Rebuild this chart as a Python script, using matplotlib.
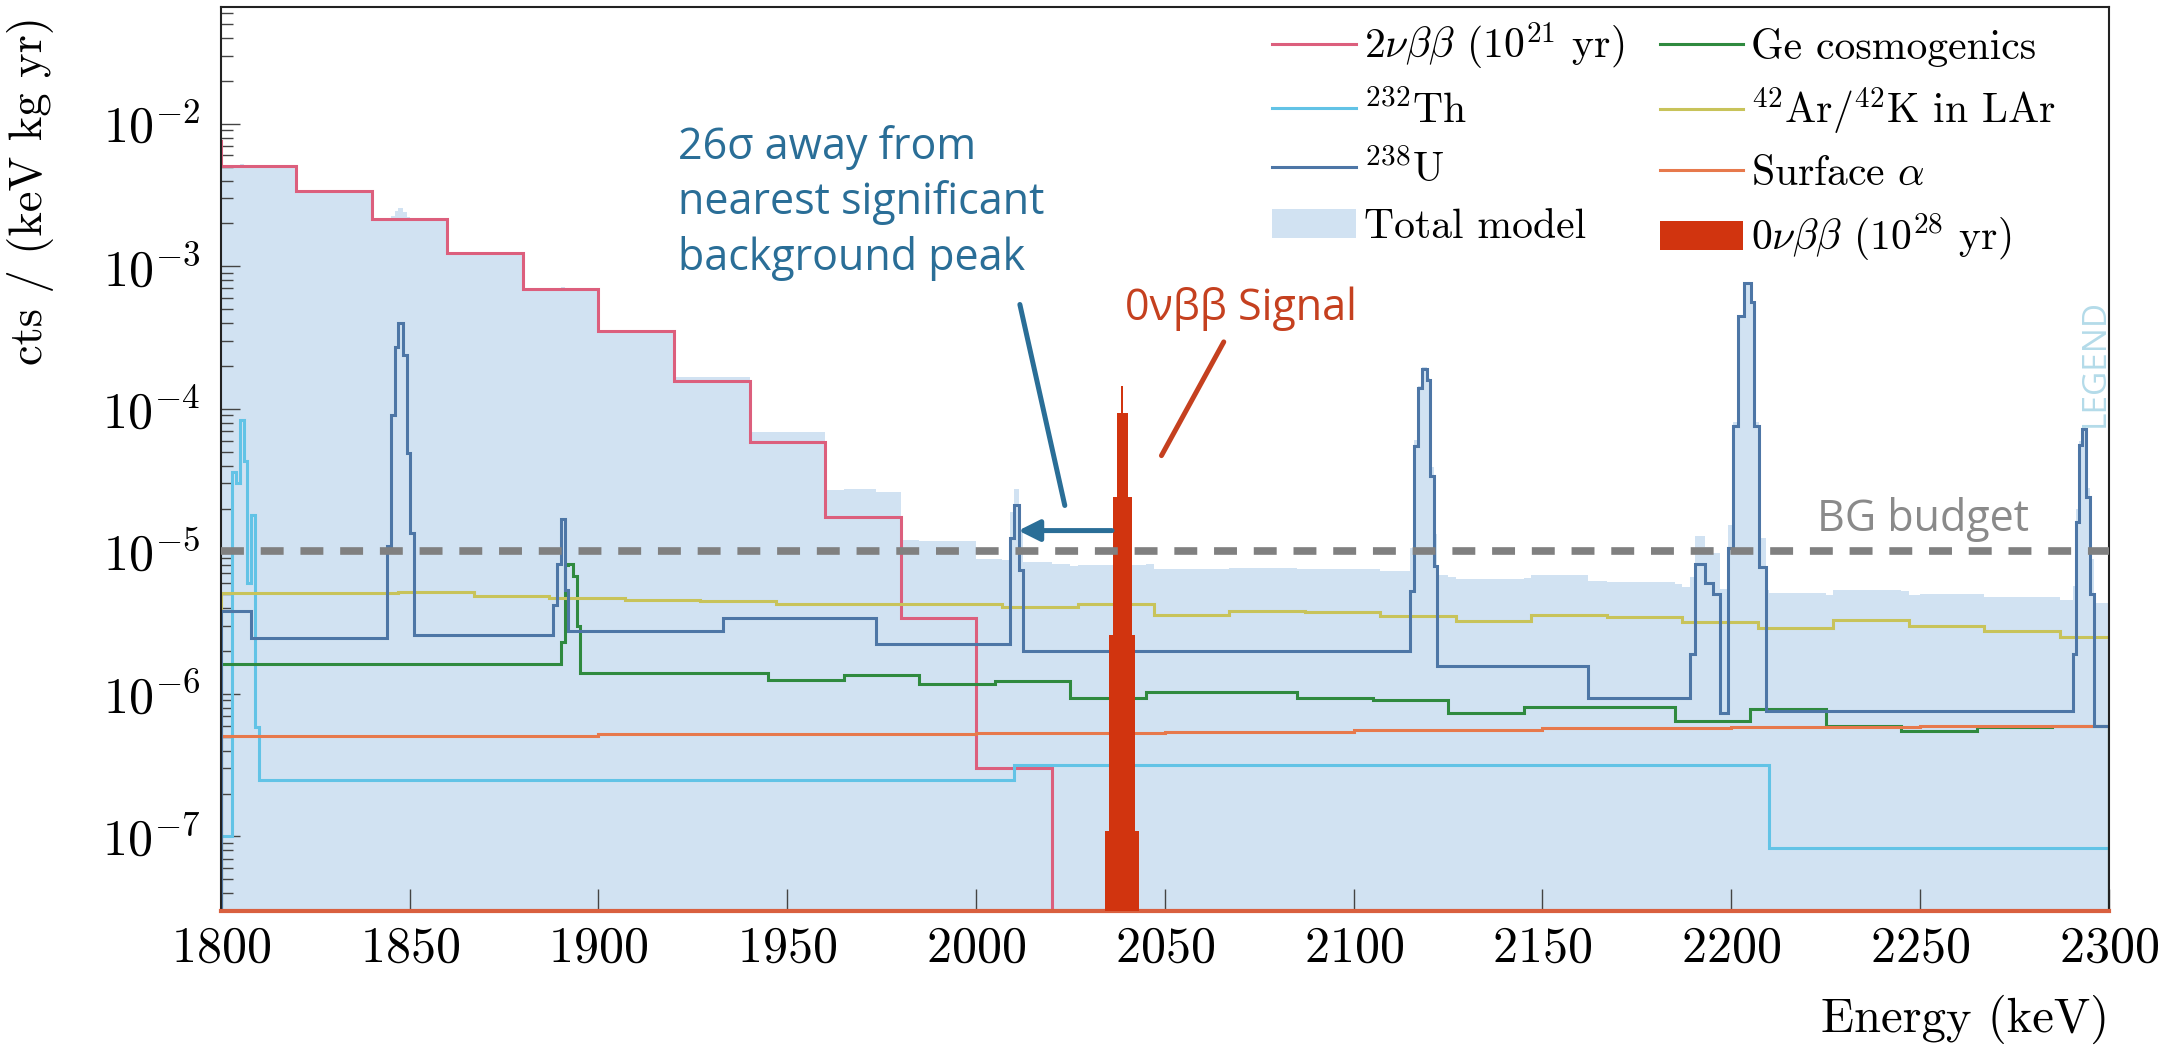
import numpy as np
import matplotlib
matplotlib.use('Agg')
import matplotlib.pyplot as plt
from matplotlib.ticker import FixedLocator, FuncFormatter, LogLocator, MultipleLocator, NullLocator

# bin edges in keV, rates in cts / (keV kg yr)
nu2_edges = [1780, 1800, 1820, 1840, 1860, 1880, 1900, 1920, 1940, 1960, 1980, 2000, 2020, 2300]
nu2_vals = [7.6e-3, 5.1e-3, 3.4e-3, 2.15e-3, 1.24e-3, 6.9e-4, 3.5e-4, 1.58e-4, 5.9e-5, 1.74e-5,
            3.4e-6, 3.0e-7, 0]

th_edges = [1800, 1803, 1804, 1805, 1806, 1807, 1808, 1809, 1810, 2010, 2210, 2300]
th_vals = [1.0e-7, 3.6e-5, 3.0e-5, 8.3e-5, 4.3e-5, 6.0e-6, 1.8e-5, 5.9e-7, 2.5e-7, 3.15e-7, 8.3e-8]

u_edges = [1800, 1808, 1844, 1845, 1846, 1847, 1848.3, 1849.2, 1850.1, 1851.1, 1888, 1889, 1890,
           1891, 1892, 1933, 1973.5, 2009, 2010, 2011.3, 2012.3, 2115, 2116, 2117, 2118, 2119.3,
           2120.3, 2121.2, 2122.1, 2162, 2189, 2190.3, 2193, 2195.2, 2197, 2199.1, 2200.4, 2201.7,
           2203.3, 2205.2, 2206.1, 2207.4, 2209.1, 2290.5, 2291.2, 2292.1, 2293, 2294, 2295.1,
           2296.2, 2300]
u_vals = [3.8e-6, 2.45e-6, 1.1e-5, 9.1e-5, 2.7e-4, 4.0e-4, 2.4e-4, 4.9e-5, 1.35e-5, 2.6e-6,
          4.2e-6, 8.1e-6, 1.7e-5, 5.4e-6, 2.75e-6, 3.4e-6, 2.25e-6, 1.24e-5, 2.1e-5, 7.4e-6,
          2.0e-6, 5.3e-6, 5.5e-5, 1.4e-4, 1.9e-4, 1.6e-4, 3.4e-5, 7.9e-6, 1.56e-6, 9.3e-7,
          1.9e-6, 8.1e-6, 6.0e-6, 5.0e-6, 7.4e-7, 1.05e-5, 7.6e-5, 4.5e-4, 7.7e-4, 5.6e-4,
          7.6e-5, 7.8e-6, 7.6e-7, 1.9e-6, 1.6e-5, 5.6e-5, 7.2e-5, 2.4e-5, 5.0e-6, 6.0e-7]

ge_edges = [1800, 1890, 1891, 1892, 1893.3, 1894.2, 1895, 1945, 1965, 1985, 2005, 2025, 2045,
            2065, 2085, 2105, 2125, 2145, 2165, 2185, 2205, 2225, 2245, 2265, 2285, 2300]
ge_vals = [1.63e-6, 2.3e-6, 8.0e-6, 8.2e-6, 6.7e-6, 3.0e-6, 1.4e-6, 1.26e-6, 1.36e-6, 1.18e-6,
           1.24e-6, 9.3e-7, 1.04e-6, 1.04e-6, 9.3e-7, 9.1e-7, 7.3e-7, 8.1e-7, 8.1e-7, 6.5e-7,
           7.8e-7, 6.0e-7, 5.5e-7, 5.9e-7, 6.0e-7]

ar_edges = [1800, 1807, 1827, 1847, 1867, 1887, 1907, 1927, 1947, 1967, 1987, 2007, 2027, 2047,
            2067, 2087, 2107, 2127, 2147, 2167, 2187, 2207, 2227, 2247, 2267, 2287, 2300]
ar_vals = [5.1e-6, 5.1e-6, 5.1e-6, 5.2e-6, 4.9e-6, 4.7e-6, 4.55e-6, 4.5e-6, 4.3e-6, 4.3e-6,
           4.3e-6, 4.1e-6, 4.3e-6, 3.6e-6, 3.8e-6, 3.75e-6, 3.5e-6, 3.25e-6, 3.6e-6, 3.45e-6,
           3.2e-6, 2.9e-6, 3.3e-6, 3.0e-6, 2.75e-6, 2.5e-6]

alpha_edges = [1800, 1850, 1900, 1950, 2000, 2050, 2100, 2150, 2200, 2250, 2300]
alpha_vals = [5.05e-7, 5.1e-7, 5.2e-7, 5.25e-7, 5.3e-7, 5.4e-7, 5.6e-7, 5.75e-7, 5.85e-7, 5.95e-7]

sig_edges = [2034.2, 2035.2, 2036.2, 2037.2, 2038.4, 2039.0, 2040.3, 2041.2, 2042.1, 2043.2]
sig_vals = [1.1e-7, 2.6e-6, 2.4e-5, 9.3e-5, 1.45e-4, 9.3e-5, 2.4e-5, 2.6e-6, 1.1e-7]

bg_budget = 1e-5
y_decades = [1e-7, 1e-6, 1e-5, 1e-4, 1e-3, 1e-2]

labels = [r'$2\nu\beta\beta$ ($10^{21}$ yr)', r'$^{232}$Th', r'$^{238}$U', 'Total model',
          'Ge cosmogenics', r'$^{42}$Ar/$^{42}$K in LAr', r'Surface $\alpha$',
          r'$0\nu\beta\beta$ ($10^{28}$ yr)']


def on_grid(edges, vals, mids):
    edges = np.asarray(edges, dtype=float)
    vals = np.asarray(vals, dtype=float)
    idx = np.searchsorted(edges, mids, side='right') - 1
    out = np.zeros_like(mids)
    ok = (idx >= 0) & (idx < len(vals))
    out[ok] = vals[idx[ok]]
    return out


plt.rcParams['font.family'] = 'cmr10'
plt.rcParams['mathtext.fontset'] = 'cm'
plt.rcParams['axes.formatter.use_mathtext'] = True

# total model = sum of the background components on a common grid
components = [(nu2_edges, nu2_vals), (th_edges, th_vals), (u_edges, u_vals), (ge_edges, ge_vals),
              (ar_edges, ar_vals), (alpha_edges, alpha_vals)]
grid = np.unique(np.concatenate([np.asarray(e, dtype=float) for e, _ in components]))
grid = grid[(grid >= 1800) & (grid <= 2300)]
mids = 0.5 * (grid[1:] + grid[:-1])
total = sum(on_grid(e, v, mids) for e, v in components)

fig = plt.figure(figsize=(21.7, 10.47), dpi=100)
ax = fig.add_axes([0.1018, 0.1299, 0.8700, 0.8634])
ax.set_yscale('log')

lw = 2.2
h_tot = ax.stairs(total, grid, fill=True, baseline=1e-12, color='#d1e2f2', lw=0, zorder=1)
h_nu2 = ax.stairs(nu2_vals, nu2_edges, color='#dc5f7d', lw=lw, zorder=2)
h_th = ax.stairs(th_vals, th_edges, color='#62c3e6', lw=lw, zorder=2)
h_ge = ax.stairs(ge_vals, ge_edges, color='#2f8a3f', lw=lw, zorder=2)
h_ar = ax.stairs(ar_vals, ar_edges, color='#c8c35a', lw=lw, zorder=2)
h_al = ax.stairs(alpha_vals, alpha_edges, color='#e7794c', lw=lw, zorder=2)
h_u = ax.stairs(u_vals, u_edges, color='#4d76a6', lw=lw, zorder=2.5)
h_sig = ax.stairs(sig_vals, sig_edges, fill=True, baseline=1e-12, color='#d1340f', lw=0, zorder=3)

ax.axhline(bg_budget, color='#808080', lw=5.5, ls=(0, (3, 2.2)), zorder=4)

ax.set_xlim(1800, 2300)
ax.set_ylim(3e-8, 6.6e-2)

sans = ['Open Sans', 'DejaVu Sans']
ax.text(1921.0, 9.5e-4, '26σ away from\nnearest significant\nbackground peak', family=sans,
        fontsize=31, color='#2a6e97', va='baseline', ha='left', linespacing=1.3)
ax.text(2039.4, 4.2e-4, '0νββ Signal', family=sans, fontsize=31, color='#c5401f',
        va='baseline', ha='left')
ax.text(2222.7, 1.38e-5, 'BG budget', family=sans, fontsize=31, color='#8a8a8a',
        va='baseline', ha='left')
ax.text(2296.4, 2.1e-4, 'LEGEND', family=sans, fontsize=24, color='#b4dbe9', rotation=90,
        va='center', ha='center', zorder=5)

ax.annotate('', xy=(2023.5, 2.1e-5), xytext=(2011.6, 5.4e-4),
            arrowprops=dict(arrowstyle='-', color='#2a6e97', lw=3.6, shrinkA=0, shrinkB=0))
ax.annotate('', xy=(2011.2, 1.4e-5), xytext=(2036.0, 1.4e-5),
            arrowprops=dict(arrowstyle='-|>', color='#2a6e97', lw=3.6, shrinkA=0, shrinkB=0,
                            mutation_scale=32))
ax.annotate('', xy=(2049.1, 4.7e-5), xytext=(2065.6, 2.95e-4),
            arrowprops=dict(arrowstyle='-', color='#c5401f', lw=3.6, shrinkA=0, shrinkB=0))

ax.xaxis.set_major_locator(MultipleLocator(50))
ax.xaxis.set_minor_locator(NullLocator())
ax.yaxis.set_major_locator(FixedLocator(y_decades))
ax.yaxis.set_minor_locator(LogLocator(base=10, subs=np.arange(2, 10)))
ax.yaxis.set_major_formatter(FuncFormatter(lambda v, p: r'$10^{%d}$' % round(np.log10(v))))

ax.tick_params(axis='both', which='both', direction='in', top=False, right=False,
               color='#444444', width=1.0)
ax.tick_params(axis='x', which='major', length=16, labelsize=36, pad=11)
ax.tick_params(axis='y', which='major', length=14, labelsize=36, pad=15)
ax.tick_params(axis='y', which='minor', length=8.5)

for side in ['left', 'top', 'right']:
    ax.spines[side].set_linewidth(1.5)
    ax.spines[side].set_color('#222222')
ax.spines['bottom'].set_linewidth(3)
ax.spines['bottom'].set_color('#d9603f')

ax.set_xlabel('Energy (keV)', fontsize=35, loc='right', labelpad=16)
ax.set_ylabel('cts / (keV kg yr)', fontsize=33.5)
ax.yaxis.set_label_coords(-0.0885, 0.797)

handles = [h_nu2, h_th, h_u, h_tot, h_ge, h_ar, h_al, h_sig]
ax.legend(handles, labels, ncol=2, loc='upper left', bbox_to_anchor=(0.557, 0.985),
          frameon=False, fontsize=30, handlelength=2.0, handletextpad=0.2, columnspacing=0.85,
          labelspacing=0.45, borderpad=0, borderaxespad=0)

fig.savefig('out.png', dpi=100)
